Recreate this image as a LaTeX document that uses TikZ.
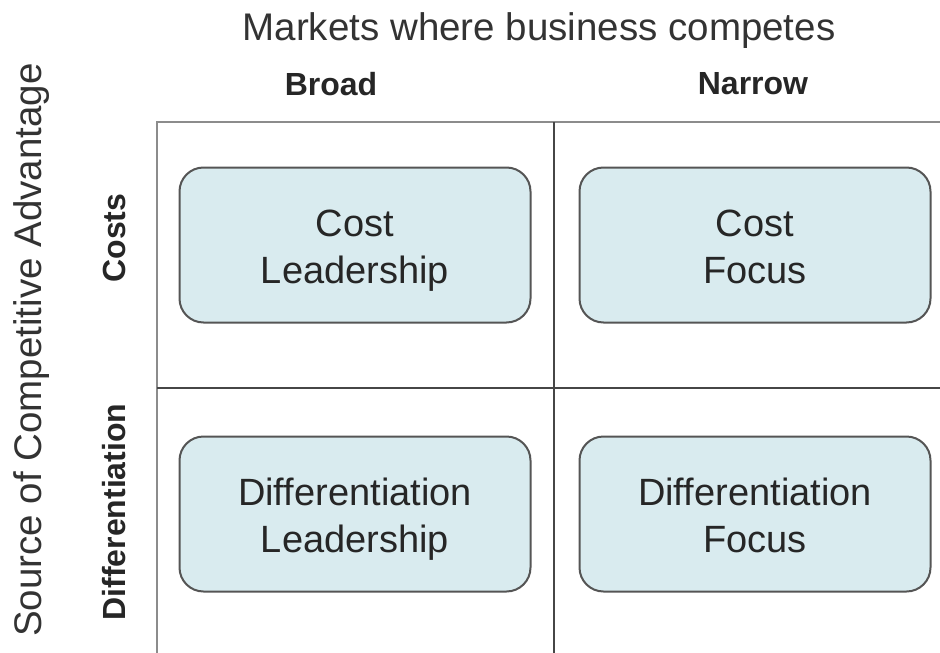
\documentclass[tikz,border=0pt]{standalone}
\usepackage{fontspec}
\setmainfont{Liberation Sans}
\usepackage{xcolor}
\definecolor{boxfill}{RGB}{217,235,239}
\definecolor{boxline}{RGB}{85,85,85}
\definecolor{gridline}{RGB}{70,70,70}
\definecolor{frameline}{RGB}{140,140,140}

\begin{document}
\begin{tikzpicture}[x=1pt,y=-1pt,
    strategy/.style={draw=boxline, line width=2pt, fill=boxfill, rounded corners=24pt,
        minimum width=351pt, minimum height=155pt, align=center,
        font=\fontsize{38}{47}\selectfont, text=black!85,
        text height=77pt, text depth=0pt},
    heading/.style={font=\bfseries\fontsize{32}{36}\selectfont, text=black!85},
    axis/.style={font=\fontsize{38.5}{44}\selectfont, text=black!80}]
    \useasboundingbox (0,0) rectangle (940,653);
    % frame and dividers
    \draw[frameline, line width=2pt] (940,122) -- (157,122) -- (157,653);
    \draw[gridline, line width=2pt] (554,122) -- (554,653);
    \draw[gridline, line width=2pt] (157,388) -- (940,388);
    % axis titles
    \node[axis] (market) at (539,31) {Markets where business competes};
    \node[axis, rotate=90] (source) at (32,350) {Source of Competitive Advantage};
    \node[heading] (broad) at (331,84) {Broad};
    \node[heading] (narrow) at (753,84) {Narrow};
    \node[heading, rotate=90] (costs) at (114,238) {Costs};
    \node[heading, rotate=90] (diff) at (114,512) {Differentiation};
    % strategies
    \node[strategy] (CL) at (355,245) {Cost\\Leadership};
    \node[strategy] (CF) at (755,245) {Cost\\Focus};
    \node[strategy] (DL) at (355,514) {Differentiation\\Leadership};
    \node[strategy] (DF) at (755,514) {Differentiation\\Focus};
\end{tikzpicture}
\end{document}
